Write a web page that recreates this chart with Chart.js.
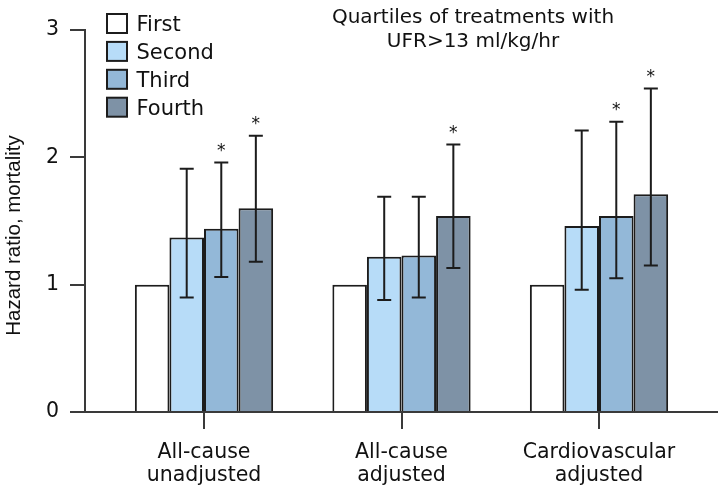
<!DOCTYPE html>
<html>
<head>
<meta charset="utf-8">
<script src="https://cdn.jsdelivr.net/npm/chart.js@4.4.1/dist/chart.umd.min.js"></script>
<style>
  html, body { margin: 0; padding: 0; background: #fff; }
  #wrap { width: 718px; height: 493px; }
</style>
</head>
<body>
<div id="wrap"><canvas id="myChart"></canvas></div>
<script>
// categories (multi-line tick labels) and legend names
const categories = [['All-cause', 'unadjusted'], ['All-cause', 'adjusted'], ['Cardiovascular', 'adjusted']];
const quartiles = ['First', 'Second', 'Third', 'Fourth'];
const yTicks = [0, 1, 2, 3];

// hazard ratios per quartile
const hrFirst = [1.00, 1.00, 1.00];
const hrSecond = [1.37, 1.22, 1.46];
const hrThird = [1.44, 1.23, 1.54];
const hrFourth = [1.60, 1.54, 1.71];

// 95% CI (first quartile is the reference, no bars)
const lowSecond = [0.90, 0.88, 0.96];
const highSecond = [1.91, 1.69, 2.21];
const lowThird = [1.06, 0.90, 1.05];
const highThird = [1.96, 1.69, 2.28];
const lowFourth = [1.18, 1.13, 1.15];
const highFourth = [2.17, 2.10, 2.54];

// significance markers (*)
const sigSecond = [false, false, false];
const sigThird = [true, false, true];
const sigFourth = [true, true, true];

const series = [hrFirst, hrSecond, hrThird, hrFourth];
const lows = [null, lowSecond, lowThird, lowFourth];
const highs = [null, highSecond, highThird, highFourth];
const sigs = [null, sigSecond, sigThird, sigFourth];

const fills = ['#ffffff', '#b7dcf8', '#93b8d8', '#7e92a6'];
const edge = '#1c1c1c';
const axisColor = '#3a3a3a';
const textFont = 'DejaVu Sans';

const annotations = {
    id: 'annotations',
    afterDatasetsDraw(chart) {
        const ctx = chart.ctx;
        const y = chart.scales.y;
        ctx.save();
        ctx.strokeStyle = edge;
        ctx.fillStyle = '#111';
        ctx.lineWidth = 2;
        ctx.font = '17px "' + textFont + '"';
        ctx.textAlign = 'center';
        ctx.textBaseline = 'alphabetic';
        series.forEach((s, k) => {
            if (!lows[k]) return;
            const meta = chart.getDatasetMeta(k);
            meta.data.forEach((bar, i) => {
                const yl = y.getPixelForValue(lows[k][i]);
                const yh = y.getPixelForValue(highs[k][i]);
                ctx.beginPath();
                ctx.moveTo(bar.x, yl);
                ctx.lineTo(bar.x, yh);
                ctx.moveTo(bar.x - 7, yh);
                ctx.lineTo(bar.x + 7, yh);
                ctx.moveTo(bar.x - 7, yl);
                ctx.lineTo(bar.x + 7, yl);
                ctx.stroke();
                if (sigs[k][i]) ctx.fillText('*', bar.x, yh - 6.5);
            });
        });
        ctx.restore();
    },
    afterDraw(chart) {
        const ctx = chart.ctx;
        ctx.save();
        // title
        ctx.fillStyle = '#111';
        ctx.font = '20px "' + textFont + '"';
        ctx.textAlign = 'center';
        ctx.textBaseline = 'alphabetic';
        ctx.fillText('Quartiles of treatments with', 473, 22.5);
        ctx.fillText('UFR>13 ml/kg/hr', 473, 47);
        // legend
        ctx.textAlign = 'left';
        ctx.font = '21px "' + textFont + '"';
        quartiles.forEach((q, k) => {
            const top = 14 + k * 27.9;
            ctx.fillStyle = fills[k];
            ctx.fillRect(107, top, 20, 19);
            ctx.strokeStyle = edge;
            ctx.lineWidth = 2;
            ctx.strokeRect(107, top, 20, 19);
            ctx.fillStyle = '#111';
            ctx.fillText(q, 136.5, top + 17);
        });
        // y axis title
        ctx.font = '20.5px "Liberation Sans", Arial, sans-serif';
        ctx.textAlign = 'center';
        ctx.translate(19.7, 235.5);
        ctx.rotate(-Math.PI / 2);
        ctx.fillText('Hazard ratio, mortality', 0, 0);
        ctx.restore();
    }
};

const ctx = document.getElementById('myChart');
new Chart(ctx.getContext('2d'), {
    type: 'bar',
    data: {
        datasets: quartiles.map((q, k) => ({
            label: q,
            data: series[k].map((v, i) => ({ x: i, y: v })),
            backgroundColor: fills[k],
            borderColor: edge,
            borderWidth: 2,
            categoryPercentage: 0.70,
            barPercentage: 1.0
        }))
    },
    options: {
        responsive: true,
        maintainAspectRatio: false,
        animation: false,
        layout: { padding: { top: 30, left: 0, right: 0, bottom: 0 } },
        plugins: {
            legend: { display: false },
            title: { display: false },
            tooltip: { enabled: false }
        },
        scales: {
            x: {
                type: 'linear',
                min: -0.6025,
                max: 2.6025,
                offset: false,
                z: 1,
                afterBuildTicks: s => { s.ticks = categories.map((c, i) => ({ value: i })); },
                afterFit: s => { s.height = 81; },
                grid: { offset: false, drawOnChartArea: false, tickLength: 17, color: axisColor, lineWidth: 2 },
                border: { display: true, color: axisColor, width: 2 },
                ticks: {
                    autoSkip: false,
                    maxRotation: 0,
                    padding: 12,
                    color: '#111',
                    font: { family: textFont, size: 20.5, lineHeight: 1.14 },
                    callback: v => categories[v]
                }
            },
            y: {
                min: 0,
                max: 3,
                afterBuildTicks: s => { s.ticks = yTicks.map(v => ({ value: v })); },
                afterFit: s => { s.width = 85; },
                grid: { drawOnChartArea: false, tickLength: 15, color: axisColor, lineWidth: 2 },
                border: { display: true, color: axisColor, width: 2 },
                ticks: {
                    padding: 11,
                    color: '#111',
                    font: { family: textFont, size: 20.5 }
                }
            }
        }
    },
    plugins: [annotations]
});
</script>
</body>
</html>
